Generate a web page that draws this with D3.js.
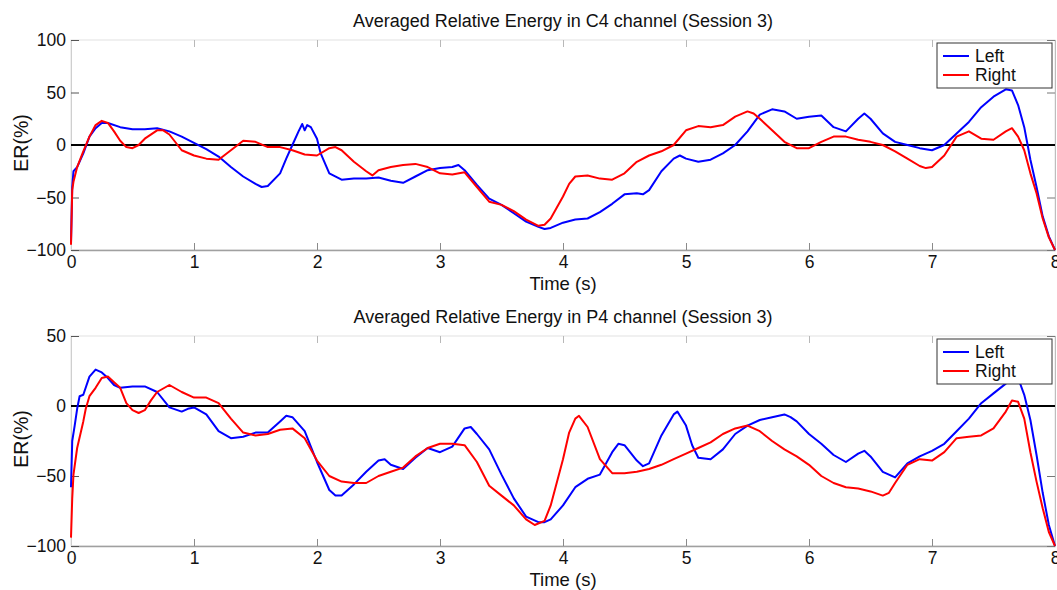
<!DOCTYPE html>
<html>
<head>
<meta charset="utf-8">
<script src="https://cdn.jsdelivr.net/npm/d3@7/dist/d3.min.js"></script>
<style>
	body { margin: 0; background: #fff; }
	text { font-family: 'Liberation Sans', Arial, sans-serif; fill: #111; }
</style>
</head>
<body>
<script>
const width = 1057
const height = 590

// time (s), ER (%)
const c4Left = [[0,-93],[0.01,-40],[0.02,-25],[0.05,-21],[0.1,-8],[0.15,8],[0.2,16],[0.25,21],[0.3,21],[0.4,17],[0.5,15],[0.6,15],[0.7,16],[0.8,13],[0.9,8],[1.0,2],[1.1,-4],[1.2,-11],[1.3,-21],[1.4,-30],[1.5,-37],[1.55,-40],[1.6,-39],[1.7,-27],[1.75,-13],[1.8,0],[1.85,13],[1.88,20],[1.9,14],[1.92,19],[1.95,17],[2.0,6],[2.03,-8],[2.1,-27],[2.2,-33],[2.3,-32],[2.4,-32],[2.5,-31],[2.6,-34],[2.7,-36],[2.8,-30],[2.9,-24],[3.0,-22],[3.1,-21],[3.15,-19],[3.2,-24],[3.3,-38],[3.4,-51],[3.5,-57],[3.6,-65],[3.7,-73],[3.8,-78],[3.85,-80],[3.9,-79],[4.0,-74],[4.1,-71],[4.2,-70],[4.3,-64],[4.4,-56],[4.5,-47],[4.6,-46],[4.65,-47],[4.7,-43],[4.8,-25],[4.9,-13],[4.95,-10],[5.0,-13],[5.1,-16],[5.2,-14],[5.3,-8],[5.4,0],[5.5,13],[5.6,29],[5.7,34],[5.8,32],[5.9,25],[6.0,27],[6.1,28],[6.2,17],[6.3,13],[6.4,25],[6.45,30],[6.5,25],[6.6,11],[6.7,3],[6.8,0],[6.9,-3],[7.0,-5],[7.1,0],[7.2,11],[7.3,22],[7.4,36],[7.5,46],[7.6,53],[7.65,52],[7.7,38],[7.75,17],[7.8,-14],[7.85,-40],[7.9,-68],[7.95,-87],[8.0,-100]]
const c4Right = [[0,-95],[0.01,-43],[0.02,-35],[0.05,-21],[0.1,-6],[0.15,8],[0.2,19],[0.25,23],[0.3,21],[0.35,13],[0.4,4],[0.45,-2],[0.5,-3],[0.55,0],[0.6,6],[0.7,14],[0.75,14],[0.8,10],[0.9,-5],[1.0,-10],[1.1,-13],[1.2,-14],[1.3,-5],[1.4,4],[1.5,3],[1.6,-2],[1.7,-2],[1.8,-5],[1.9,-9],[2.0,-10],[2.1,-3],[2.15,-2],[2.2,-5],[2.3,-16],[2.4,-25],[2.45,-29],[2.5,-24],[2.6,-21],[2.7,-19],[2.8,-18],[2.9,-21],[3.0,-27],[3.1,-28],[3.2,-26],[3.3,-40],[3.4,-54],[3.5,-57],[3.6,-63],[3.7,-71],[3.8,-77],[3.85,-76],[3.9,-70],[4.0,-49],[4.05,-37],[4.1,-30],[4.2,-29],[4.3,-32],[4.4,-33],[4.5,-27],[4.6,-16],[4.7,-10],[4.8,-6],[4.9,0],[5.0,14],[5.1,18],[5.2,17],[5.3,19],[5.4,27],[5.5,32],[5.55,30],[5.6,25],[5.7,14],[5.8,3],[5.9,-3],[6.0,-3],[6.1,3],[6.2,8],[6.3,8],[6.4,5],[6.5,3],[6.6,0],[6.7,-6],[6.8,-13],[6.9,-20],[6.95,-22],[7.0,-21],[7.1,-10],[7.2,8],[7.3,13],[7.4,6],[7.5,5],[7.6,13],[7.65,16],[7.7,8],[7.75,-5],[7.8,-27],[7.85,-46],[7.9,-70],[7.95,-88],[8.0,-100]]
const p4Left = [[0,-58],[0.01,-25],[0.03,-14],[0.05,-2],[0.07,7],[0.1,8],[0.15,21],[0.2,26],[0.25,24],[0.3,20],[0.35,15],[0.4,13],[0.5,14],[0.6,14],[0.7,10],[0.8,-1],[0.9,-4],[0.95,-2],[1.0,-1],[1.1,-6],[1.2,-18],[1.3,-23],[1.4,-22],[1.5,-19],[1.6,-19],[1.7,-11],[1.75,-7],[1.8,-8],[1.85,-13],[1.9,-18],[2.0,-40],[2.1,-60],[2.15,-64],[2.2,-64],[2.3,-56],[2.4,-47],[2.5,-39],[2.55,-38],[2.6,-42],[2.7,-45],[2.8,-37],[2.9,-30],[3.0,-33],[3.1,-29],[3.2,-16],[3.25,-15],[3.3,-20],[3.4,-31],[3.5,-49],[3.6,-66],[3.7,-79],[3.8,-83],[3.85,-83],[3.9,-81],[4.0,-71],[4.1,-58],[4.2,-52],[4.3,-49],[4.4,-33],[4.45,-27],[4.5,-28],[4.6,-39],[4.65,-43],[4.7,-41],[4.8,-21],[4.9,-6],[4.93,-4],[5.0,-14],[5.05,-28],[5.1,-37],[5.2,-38],[5.3,-31],[5.4,-20],[5.5,-14],[5.6,-10],[5.7,-8],[5.8,-6],[5.85,-8],[5.9,-11],[6.0,-20],[6.1,-27],[6.2,-35],[6.3,-40],[6.4,-34],[6.45,-32],[6.5,-36],[6.6,-47],[6.7,-51],[6.8,-41],[6.9,-36],[7.0,-32],[7.1,-27],[7.2,-18],[7.3,-9],[7.4,2],[7.5,9],[7.6,16],[7.65,22],[7.7,20],[7.75,8],[7.8,-10],[7.85,-35],[7.9,-62],[7.95,-85],[8.0,-100]]
const p4Right = [[0,-94],[0.01,-66],[0.02,-49],[0.05,-30],[0.1,-11],[0.12,-2],[0.15,7],[0.2,13],[0.25,20],[0.3,21],[0.35,17],[0.4,13],[0.45,2],[0.5,-3],[0.55,-5],[0.6,-3],[0.65,4],[0.7,10],[0.8,15],[0.9,10],[1.0,6],[1.1,6],[1.2,2],[1.3,-9],[1.4,-19],[1.5,-21],[1.6,-20],[1.7,-17],[1.8,-16],[1.9,-23],[2.0,-39],[2.1,-50],[2.2,-54],[2.3,-55],[2.4,-55],[2.5,-50],[2.6,-47],[2.7,-44],[2.8,-36],[2.9,-30],[3.0,-27],[3.1,-27],[3.2,-28],[3.3,-40],[3.4,-57],[3.5,-64],[3.6,-71],[3.7,-81],[3.77,-85],[3.85,-82],[3.9,-71],[4.0,-38],[4.05,-19],[4.1,-9],[4.13,-7],[4.2,-15],[4.3,-38],[4.4,-48],[4.5,-48],[4.6,-47],[4.7,-45],[4.8,-42],[4.9,-38],[5.0,-34],[5.1,-30],[5.2,-26],[5.3,-20],[5.4,-16],[5.5,-14],[5.6,-18],[5.7,-25],[5.8,-31],[5.9,-36],[6.0,-42],[6.1,-50],[6.2,-55],[6.3,-58],[6.4,-59],[6.5,-61],[6.6,-64],[6.65,-62],[6.7,-55],[6.8,-42],[6.9,-38],[7.0,-39],[7.1,-33],[7.2,-23],[7.3,-22],[7.4,-21],[7.5,-16],[7.6,-4],[7.65,4],[7.7,3],[7.75,-9],[7.8,-33],[7.85,-54],[7.9,-73],[7.95,-90],[8.0,-100]]

const xTicks = [0, 1, 2, 3, 4, 5, 6, 7, 8]
const c4YTicks = [-100, -50, 0, 50, 100]
const p4YTicks = [-100, -50, 0, 50]
const seriesNames = ['Left', 'Right']
const seriesColors = ['#0000ff', '#ff0000']

const panels = [
	{ title: 'Averaged Relative Energy in C4 channel (Session 3)', top: 40, h: 210, yDomain: [-100, 100], yTicks: c4YTicks, series: [c4Left, c4Right] },
	{ title: 'Averaged Relative Energy in P4 channel (Session 3)', top: 336, h: 210, yDomain: [-100, 50], yTicks: p4YTicks, series: [p4Left, p4Right] }
]

const left = 71
const innerWidth = 984

const svg = d3.select('body')
	.append('svg')
	.attr('width', width)
	.attr('height', height)

svg.append('rect')
	.attr('width', width)
	.attr('height', height)
	.attr('fill', '#fff')

const xScale = d3.scaleLinear()
	.domain([0, 8])
	.range([0, innerWidth])

panels.forEach(p => {
	const g = svg.append('g')
		.attr('transform', `translate(${left},${p.top})`)

	const yScale = d3.scaleLinear()
		.domain(p.yDomain)
		.range([p.h, 0])

	// box
	g.append('rect')
		.attr('width', innerWidth)
		.attr('height', p.h)
		.attr('fill', 'none')
		.attr('stroke', '#e2e2e2')

	const xAxis = g.append('g')
		.attr('transform', `translate(0,${p.h})`)
		.call(d3.axisBottom(xScale).tickValues(xTicks).tickSizeInner(-7).tickSizeOuter(0).tickPadding(6))
	xAxis.select('.domain').attr('stroke', '#a0a0a0').attr('stroke-width', 1.5)
	xAxis.selectAll('.tick line').attr('stroke', '#8a8a8a')
	xAxis.selectAll('text').attr('font-size', 17.5).attr('fill', '#111')

	g.append('g')
		.call(d3.axisTop(xScale).tickValues(xTicks).tickSizeInner(-7).tickSizeOuter(0).tickFormat(''))
		.call(a => a.select('.domain').remove())
		.selectAll('.tick line').attr('stroke', '#b8b8b8')

	const yAxis = g.append('g')
		.call(d3.axisLeft(yScale).tickValues(p.yTicks).tickSizeInner(-8).tickSizeOuter(0).tickPadding(5))
	yAxis.select('.domain').attr('stroke', '#cfcfcf')
	yAxis.selectAll('.tick line').attr('stroke', '#555')
	yAxis.selectAll('text').attr('font-size', 17.5).attr('fill', '#111')

	g.append('g')
		.attr('transform', `translate(${innerWidth},0)`)
		.call(d3.axisRight(yScale).tickValues(p.yTicks).tickSizeInner(-8).tickSizeOuter(0).tickFormat(''))
		.call(a => a.select('.domain').attr('stroke', '#bdbdbd'))
		.selectAll('.tick line').attr('stroke', '#777')

	// zero line
	g.append('line')
		.attr('x1', 0)
		.attr('x2', innerWidth)
		.attr('y1', yScale(0))
		.attr('y2', yScale(0))
		.attr('stroke', '#000')
		.attr('stroke-width', 2)

	const line = d3.line()
		.x(d => xScale(d[0]))
		.y(d => yScale(d[1]))

	g.selectAll('.series')
		.data(p.series)
		.enter()
		.append('path')
		.attr('d', d => line(d))
		.attr('fill', 'none')
		.attr('stroke', (d, i) => seriesColors[i])
		.attr('stroke-width', 2)
		.attr('stroke-linejoin', 'round')

	// title and labels
	g.append('text')
		.attr('x', innerWidth / 2 + 0)
		.attr('y', -13)
		.attr('text-anchor', 'middle')
		.attr('font-size', 18)
		.text(p.title)

	g.append('text')
		.attr('x', innerWidth / 2)
		.attr('y', p.h + 40)
		.attr('text-anchor', 'middle')
		.attr('font-size', 18.5)
		.text('Time (s)')

	g.append('text')
		.attr('transform', `translate(${-43},${p.h / 2 - 2}) rotate(-90)`)
		.attr('text-anchor', 'middle')
		.attr('font-size', 19.5)
		.text('ER(%)')

	// legend
	const lg = g.append('g')
		.attr('transform', `translate(${866},${3})`)

	lg.append('rect')
		.attr('width', 115)
		.attr('height', 45)
		.attr('fill', '#fff')
		.attr('stroke', '#333')

	const item = lg.selectAll('.legend')
		.data(seriesNames)
		.enter()
		.append('g')
		.attr('transform', (d, i) => `translate(0,${13 + i * 19})`)

	item.append('line')
		.attr('x1', 6)
		.attr('x2', 32)
		.attr('stroke', (d, i) => seriesColors[i])
		.attr('stroke-width', 2)

	item.append('text')
		.attr('x', 38)
		.attr('dy', '0.35em')
		.attr('font-size', 17.5)
		.text(d => d)
})
</script>
</body>
</html>
